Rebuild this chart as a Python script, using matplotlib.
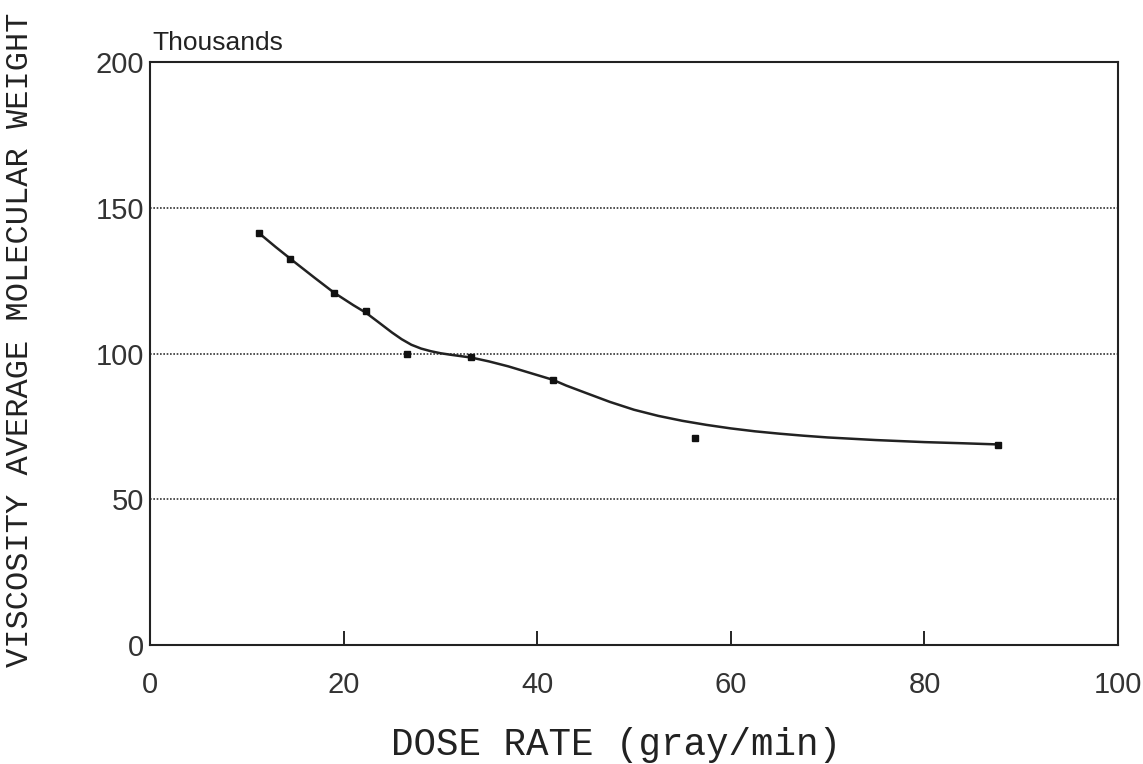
import matplotlib
matplotlib.use("Agg")
import matplotlib.pyplot as plt

# Measured data points (dose rate in gray/min, MW in thousands)
dose_rate = [11.3, 14.5, 19.0, 22.3, 26.5, 33.2, 41.6, 56.3, 87.6]
mol_weight = [141.2, 132.4, 120.8, 114.6, 99.8, 98.8, 90.9, 71.0, 68.6]

# Hand-drawn fitted curve
curve_x = [11.3, 13.0, 15.0, 17.0, 19.0, 21.0, 22.3, 23.5, 25.0, 26.0, 27.0, 28.0,
           29.0, 30.0, 31.0, 33.2, 35.0, 37.0, 39.0, 41.6, 43.0, 45.0, 47.5, 50.0,
           52.5, 55.0, 57.5, 60.0, 62.5, 65.0, 67.5, 70.0, 75.0, 80.0, 84.0, 87.6]
curve_y = [141.2, 136.5, 131.2, 126.0, 120.9, 116.6, 114.0, 111.0, 107.2, 104.9, 103.0, 101.7,
           100.8, 100.1, 99.6, 98.6, 97.3, 95.6, 93.6, 91.0, 89.0, 86.5, 83.4, 80.7,
           78.6, 76.9, 75.5, 74.3, 73.3, 72.5, 71.8, 71.2, 70.3, 69.6, 69.2, 68.8]

x_ticks = [0, 20, 40, 60, 80, 100]
y_ticks = [0, 50, 100, 150, 200]
grid_levels = [50, 100, 150]

fig = plt.figure(figsize=(11.43, 7.64), dpi=100)
ax = fig.add_axes([0.1312, 0.1558, 0.8470, 0.7630])

for g in grid_levels:
    ax.axhline(g, color="#333333", lw=1.2, ls=(0, (1, 1)), zorder=1)

ax.plot(curve_x, curve_y, color="#222222", lw=1.8, zorder=2)
ax.plot(dose_rate, mol_weight, ls="none", marker="s", ms=4.5, color="#111111", zorder=3)

ax.set_xlim(0, 100)
ax.set_ylim(0, 200)
ax.set_xticks(x_ticks)
ax.set_yticks(y_ticks)
ax.tick_params(axis="x", direction="in", length=10, width=1.2, pad=19, labelsize=21)
ax.tick_params(axis="y", length=0, pad=4, labelsize=21)
for lab in ax.get_xticklabels() + ax.get_yticklabels():
    lab.set_fontfamily("Liberation Sans")
    lab.set_color("#333333")
for s in ax.spines.values():
    s.set_linewidth(1.5)
    s.set_color("#222222")

ax.text(0.002, 1.012, "Thousands", transform=ax.transAxes, fontsize=19,
        family="Liberation Sans", color="#222222", ha="left", va="bottom")

fig.text(0.0175, 0.555, "VISCOSITY AVERAGE MOLECULAR WEIGHT", rotation=90,
         family="Liberation Mono", fontsize=23, color="#222222", ha="center", va="center")
fig.text(0.539, 0.025, "DOSE RATE (gray/min)", family="Liberation Mono",
         fontsize=27, color="#222222", ha="center", va="center")

fig.savefig("out.png", dpi=100)
